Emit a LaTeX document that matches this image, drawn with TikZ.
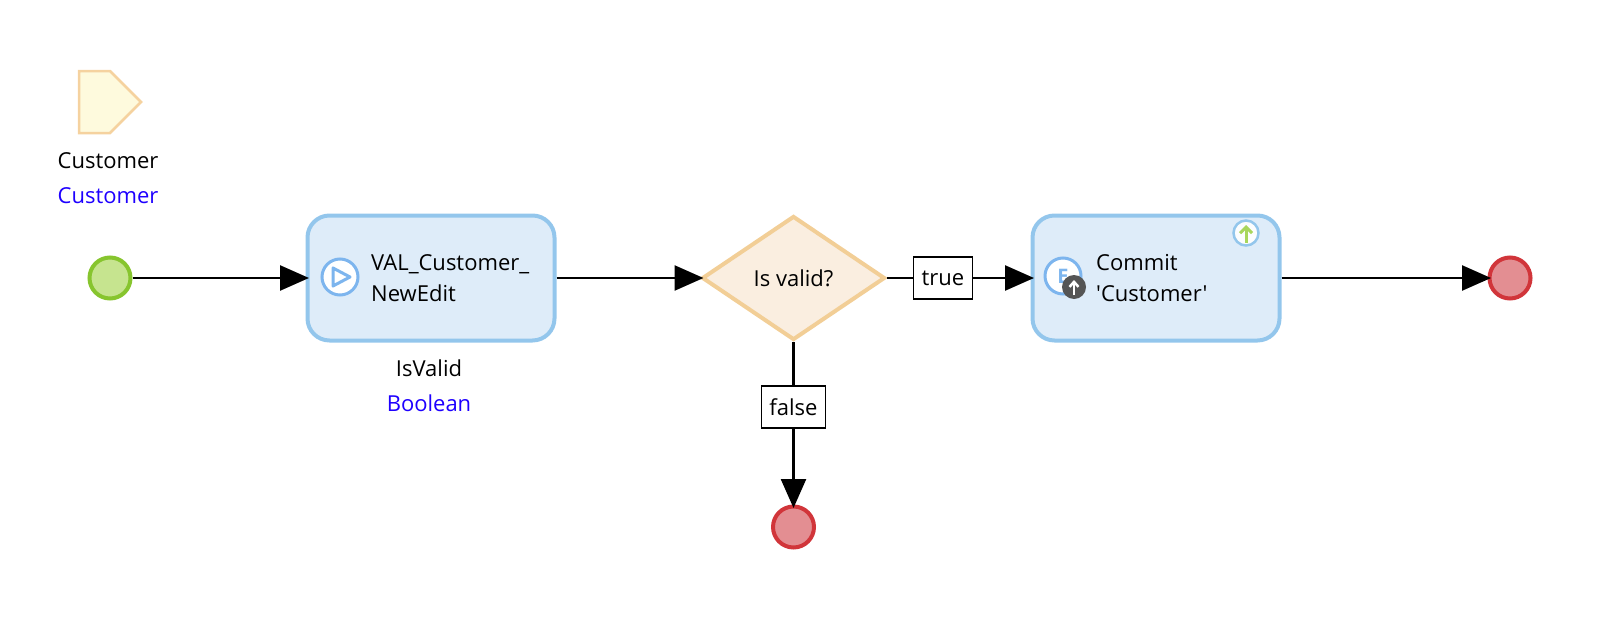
\documentclass[tikz,border=0pt]{standalone}
\usepackage{fontspec}
\setmainfont{Open Sans}
\newfontfamily\rawfont{Open Sans}
\usetikzlibrary{arrows.meta,positioning,shapes.geometric}
\definecolor{actfill}{HTML}{DEECF9}
\definecolor{actline}{HTML}{93C6EC}
\definecolor{icoline}{HTML}{7DB5EE}
\definecolor{decfill}{HTML}{FAEEE0}
\definecolor{decline}{HTML}{F2CE96}
\definecolor{startfill}{HTML}{C6E48F}
\definecolor{startline}{HTML}{87C52E}
\definecolor{endfill}{HTML}{E38E92}
\definecolor{endline}{HTML}{D1353A}
\definecolor{parfill}{HTML}{FEFADD}
\definecolor{parline}{HTML}{F5D29F}
\definecolor{typeblue}{HTML}{1E00FF}
\definecolor{badge}{HTML}{555555}
\definecolor{upgreen}{HTML}{A8D65C}

\begin{document}
\begin{tikzpicture}[
  x=1pt, y=-1pt,
  txt/.style={font=\fontsize{22}{31}\selectfont, align=left, inner sep=0pt},
  act/.style={rectangle, draw=actline, fill=actfill, line width=4pt, rounded corners=22pt, minimum width=247pt, minimum height=125pt},
  decision/.style={diamond, draw=decline, fill=decfill, line width=4pt, aspect=1.484, minimum width=183pt, minimum height=124pt, inner sep=0pt, txt},
  startev/.style={circle, draw=startline, fill=startfill, line width=4pt, minimum size=41pt, inner sep=0pt},
  endev/.style={circle, draw=endline, fill=endfill, line width=4pt, minimum size=41pt, inner sep=0pt},
  cond/.style={rectangle, draw, fill=white, line width=1.5pt, inner sep=0pt, minimum height=42pt, txt},
  ico/.style={circle, draw=icoline, fill=white, line width=3pt, minimum size=36pt, inner sep=0pt},
  flow/.style={-{Triangle[length=29pt,width=25pt]}, line width=2.5pt, shorten >=-3.5pt},
  plain/.style={line width=2.5pt},
  typetxt/.style={txt, text=typeblue}
]
  \useasboundingbox (0,0) rectangle (1600,626);

  % parameter
  \draw[draw=parline, fill=parfill, line width=2.5pt] (79,71) -- (110,71) -- (141,102) -- (110,133) -- (79,133) -- cycle;
  \node[txt] (parname) at (108,161) {Customer};
  \node[typetxt] (partype) at (108,196) {Customer};

  % events
  \node[startev] (start) at (110,278) {};
  \node[endev] (endok) at (1510,278) {};
  \node[endev] (endbad) at (793.5,527) {};

  % activities
  \node[act] (val) at (431,278) {};
  \node[ico] (valico) at (340,277) {};
  \draw[icoline, line width=3pt, line join=round] (333,268) -- (350,277) -- (333,286) -- cycle;
  \node[txt, anchor=west] (valtxt) at (371,278) {VAL\_Customer\_\\NewEdit};
  \node[txt] (resname) at (429,368) {IsValid};
  \node[typetxt] (restype) at (429,403) {Boolean};

  \node[decision] (valid) at (793.5,278) {Is valid?};
  \node[cond, minimum width=59pt] (ctrue) at (943,278) {true};
  \node[cond, minimum width=64pt] (cfalse) at (793.5,407) {false};

  \node[act] (commit) at (1156,278) {};
  \node[ico] (commitico) at (1063,276) {\textcolor{icoline}{\fontsize{20}{20}\selectfont\bfseries E}};
  \node[circle, fill=badge, minimum size=24pt, inner sep=0pt] (commitbadge) at (1074,287) {};
  \draw[white, line width=2.5pt, -{Straight Barb[length=5pt,width=9pt]}] (1074,295) -- (1074,280);
  \node[txt, anchor=west] (committxt) at (1096,278) {Commit\\{\rawfont 'Customer'}};
  \node[circle, draw=actline, fill=white!90!actfill, line width=2.5pt, minimum size=25pt, inner sep=0pt] (commitup) at (1246,233) {};
  \draw[upgreen, line width=3pt, -{Straight Barb[length=6pt,width=12pt]}] (1246,243) -- (1246,225);

  % flows
  \draw[flow] (start) -- (val);
  \draw[flow] (val) -- (valid);
  \draw[plain] (valid) -- (ctrue);
  \draw[flow] (ctrue) -- (commit);
  \draw[flow] (commit) -- (endok);
  \draw[plain] (valid) -- (cfalse);
  \draw[flow] (cfalse) -- (endbad);
\end{tikzpicture}
\end{document}
